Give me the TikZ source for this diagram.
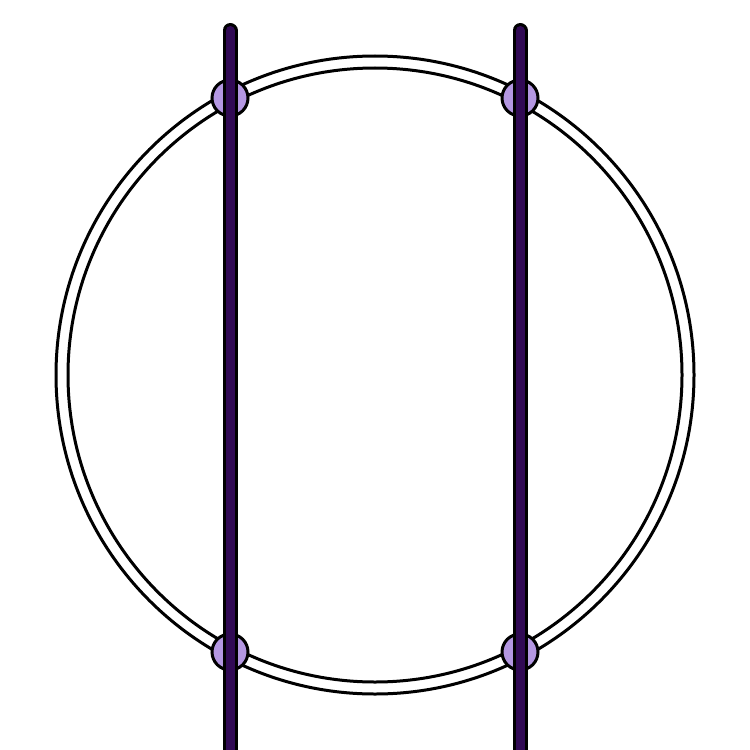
\documentclass[tikz,border=0pt]{standalone}
\definecolor{barpurple}{HTML}{310A55}
\definecolor{dotlav}{HTML}{B497E2}
\begin{document}
\begin{tikzpicture}[x=0.02cm,y=-0.02cm,
  ringline/.style={line width=0.06cm,draw=black},
  joint/.style={circle,draw=black,line width=0.06cm,fill=dotlav,minimum size=0.72cm,inner sep=0pt},
  barout/.style={line width=0.3cm,draw=black,line cap=round},
  barin/.style={line width=0.18cm,draw=barpurple,line cap=round}]
\useasboundingbox[fill=white] (0,0) rectangle (750,750);
\coordinate (c) at (375,375);
\draw[ringline] (c) circle[radius=319*0.02cm];
\draw[ringline] (c) circle[radius=307*0.02cm];
\node[joint] (lt) at (230,98) {};
\node[joint] (lb) at (230,652) {};
\node[joint] (rt) at (520,98) {};
\node[joint] (rb) at (520,652) {};
\coordinate (ltop) at (230,30.5);
\coordinate (lbot) at (230,770);
\coordinate (rtop) at (520,30.5);
\coordinate (rbot) at (520,770);
\draw[barout] (ltop) -- (lbot);
\draw[barin] (ltop) -- (lbot);
\draw[barout] (rtop) -- (rbot);
\draw[barin] (rtop) -- (rbot);
\end{tikzpicture}
\end{document}
